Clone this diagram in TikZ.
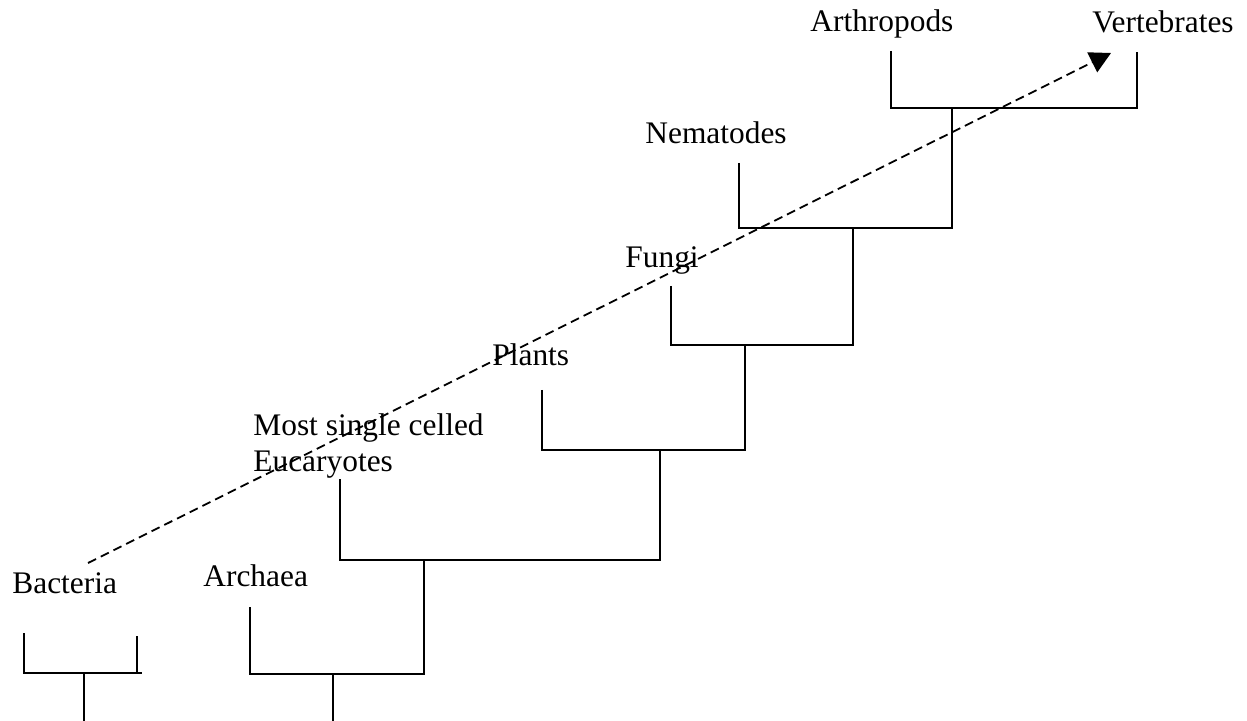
\documentclass[tikz,border=0pt]{standalone}
\usepackage{fontspec}
\setmainfont{Liberation Serif}
\usetikzlibrary{arrows.meta}
\tikzset{
  branch/.style={line width=0.9pt},
  trend/.style={line width=0.9pt, dash pattern=on 4.5pt off 2.6pt,
    -{Triangle[length=10.5pt,width=11pt]}},
  taxon/.style={anchor=base west, inner sep=0pt, align=left,
    font=\fontsize{15.7}{18}\selectfont},
}
\begin{document}
\begin{tikzpicture}[x=0.5pt,y=-0.5pt]
\useasboundingbox (0,0) rectangle (1247,721);

% taxon labels (the two-line label is anchored on its last baseline)
\node[taxon] (bac) at (12,593) {Bacteria};
\node[taxon] (arc) at (203,586) {Archaea};
\node[taxon] (euc) at (253,472) {Most single celled\\Eucaryotes};
\node[taxon] (pla) at (492,366) {Plants};
\node[taxon] (fun) at (625,268) {Fungi};
\node[taxon] (nem) at (645,144) {Nematodes};
\node[taxon] (art) at (810,32) {Arthropods};
\node[taxon] (ver) at (1092,33) {Vertebrates};

% leaf tips
\coordinate (bacTipL) at (24,633);
\coordinate (bacTipR) at (137,636);
\coordinate (arcTip) at (250,607);
\coordinate (eucTip) at (340,479);
\coordinate (plaTip) at (542,390);
\coordinate (funTip) at (671,286);
\coordinate (nemTip) at (739,163);
\coordinate (artTip) at (891,51);
\coordinate (verTip) at (1137,52);

% cross bars
\coordinate (bacBarL) at (24,673);   \coordinate (bacBarR) at (137,673);
\coordinate (bacBarE) at (142,673);
\coordinate (arcBarL) at (250,674);  \coordinate (arcBarR) at (424,674);
\coordinate (eucBarL) at (340,560);  \coordinate (eucBarR) at (660,560);
\coordinate (plaBarL) at (542,450);  \coordinate (plaBarR) at (745,450);
\coordinate (funBarL) at (671,345);  \coordinate (funBarR) at (853,345);
\coordinate (nemBarL) at (739,228);  \coordinate (nemBarR) at (952,228);
\coordinate (artBarL) at (891,108);  \coordinate (artBarR) at (1137,108);

% stems of the two lowest bars
\coordinate (bacJ) at (84,673);   \coordinate (bacRoot) at (84,721);
\coordinate (arcJ) at (333,674);  \coordinate (arcRoot) at (333,721);

% Bacteria
\draw[branch] (bacTipL) -- (bacBarL) -- (bacBarE);
\draw[branch] (bacTipR) -- (bacBarR);
\draw[branch] (bacJ) -- (bacRoot);

% nested clades, each rising into the bar above
\draw[branch] (arcTip) -- (arcBarL) -- (arcBarR) -- (eucBarL -| arcBarR);
\draw[branch] (arcJ) -- (arcRoot);
\draw[branch] (eucTip) -- (eucBarL) -- (eucBarR) -- (plaBarL -| eucBarR);
\draw[branch] (plaTip) -- (plaBarL) -- (plaBarR) -- (funBarL -| plaBarR);
\draw[branch] (funTip) -- (funBarL) -- (funBarR) -- (nemBarL -| funBarR);
\draw[branch] (nemTip) -- (nemBarL) -- (nemBarR) -- (artBarL -| nemBarR);
\draw[branch] (artTip) -- (artBarL) -- (artBarR) -- (verTip);

% trend arrow
\coordinate (trendA) at (88,563);
\coordinate (trendB) at (1111,53);
\draw[trend] (trendA) -- (trendB);
\end{tikzpicture}
\end{document}
